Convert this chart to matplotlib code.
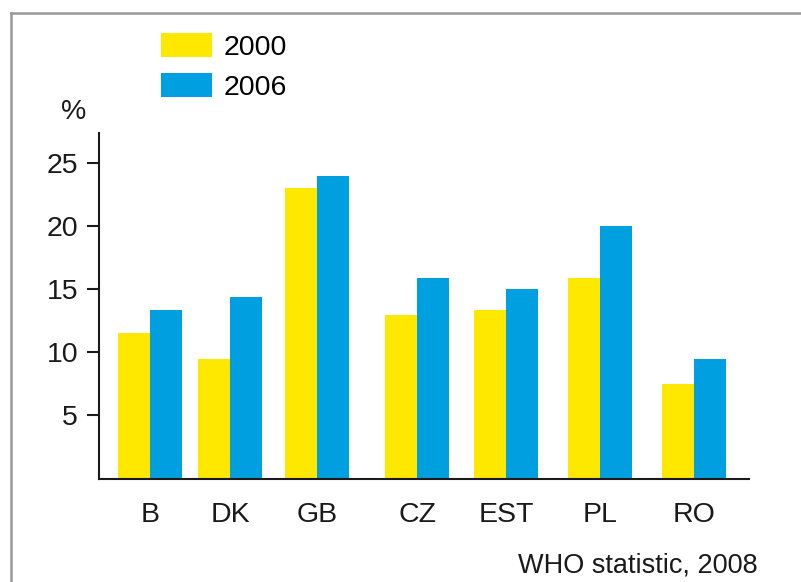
import matplotlib
matplotlib.use("Agg")
import matplotlib.pyplot as plt
from matplotlib.lines import Line2D

plt.rcParams['font.family'] = ['Liberation Sans', 'DejaVu Sans']

# data
countries = ["B", "DK", "GB", "CZ", "EST", "PL", "RO"]
share_2000 = [11.5, 9.5, 23.0, 13.0, 13.4, 15.9, 7.5]
share_2006 = [13.4, 14.4, 24.0, 15.9, 15.0, 20.0, 9.5]
years = ["2000", "2006"]
yticks = [5, 10, 15, 20, 25]

# layout (pixels of the 801x582 picture)
W, H = 801, 582
group_x = [51, 131, 218, 318, 407, 501, 595]  # groups are not evenly spaced in the original
bar_w = 32
yellow = "#ffe800"
blue = "#009fe0"

fig = plt.figure(figsize=(W / 100, H / 100), dpi=100)
ax = fig.add_axes([99 / W, (H - 478.5) / H, 650 / W, (478.5 - 133) / H])

ax.bar([x - bar_w / 2 for x in group_x], share_2000, width=bar_w, color=yellow, label=years[0])
ax.bar([x + bar_w / 2 for x in group_x], share_2006, width=bar_w, color=blue, label=years[1])

ax.set_xlim(0, 650)
ax.set_ylim(0, 27.4)
ax.set_yticks(yticks)
ax.set_xticks(group_x)
ax.set_xticklabels(countries)

for s in ["top", "right"]:
    ax.spines[s].set_visible(False)
for s in ["left", "bottom"]:
    ax.spines[s].set_linewidth(1.5)
    ax.spines[s].set_color("#1a1a1a")

ax.tick_params(axis="y", direction="out", length=9, width=1.5, pad=6, labelsize=20.5, colors="#1a1a1a")
ax.tick_params(axis="x", length=0, pad=17, labelsize=20.5, colors="#1a1a1a")

ax.legend(loc="upper left", bbox_to_anchor=(161 / W, 1 - 33 / H), bbox_transform=fig.transFigure,
          frameon=False, fontsize=20.5, borderpad=0, borderaxespad=0, handlelength=1.78,
          handleheight=0.9, handletextpad=0.42, labelspacing=0.45)

fig.text(74 / W, 1 - 112 / H, "%", ha="center", va="center", fontsize=20.5, color="#1a1a1a")
fig.text(758 / W, 1 - 573 / H, "WHO statistic, 2008", ha="right", va="baseline", fontsize=19.5,
         color="#1a1a1a")

# grey frame on top and left like the original
fig.add_artist(Line2D([11 / W, 1], [1 - 13 / H, 1 - 13 / H], transform=fig.transFigure,
                      color="#999999", lw=1.8))
fig.add_artist(Line2D([11 / W, 11 / W], [0, 1 - 13 / H], transform=fig.transFigure,
                      color="#999999", lw=1.8))

fig.savefig("out.png", dpi=100)
